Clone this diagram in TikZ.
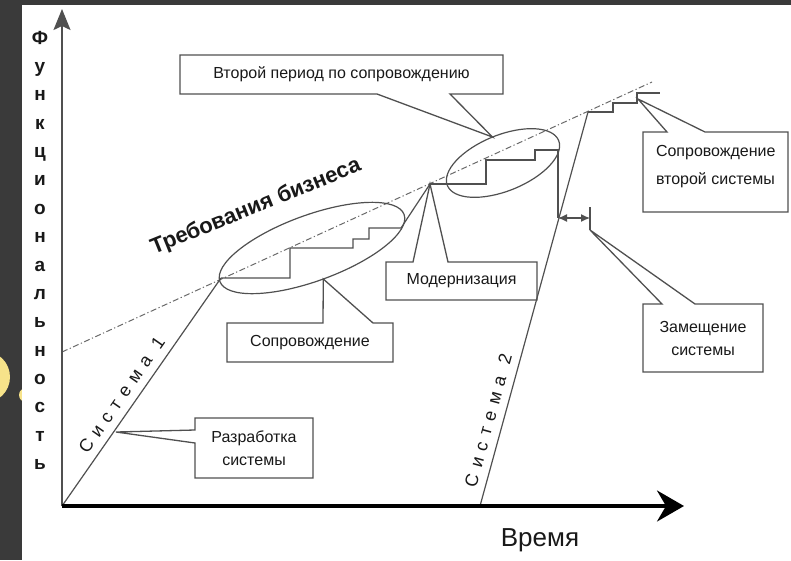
\documentclass[tikz,border=0pt]{standalone}
\usepackage{fontspec}
\setmainfont{Liberation Sans}
\usetikzlibrary{arrows.meta,calc,shapes.geometric}
\definecolor{darkbg}{RGB}{58,58,58}
\definecolor{yel}{RGB}{247,227,138}
\definecolor{ln}{RGB}{80,80,80}
\definecolor{dd}{RGB}{105,105,105}
\definecolor{txt}{RGB}{25,25,25}
\newcommand{\lsp}{\kern 7pt}
\begin{document}
\begin{tikzpicture}[x=1pt,y=-1pt,
  yaxisline/.style={draw=ln, line width=1.8pt},
  xaxisline/.style={draw=black, line width=3.5pt},
  stairline/.style={draw=ln, line width=1.2pt, line join=miter},
  sysline/.style={draw=ln, line width=1.2pt},
  dotline/.style={draw=dd, line width=1pt, dash pattern=on 6pt off 2.5pt on 1.2pt off 2.5pt},
  oval/.style={draw=ln, line width=1.2pt, ellipse, inner sep=0pt, outer sep=0pt},
  callout/.style={draw=ln, line width=1.3pt, line join=miter},
  boxgeom/.style={inner sep=0pt, outer sep=0pt, align=center, text=txt, font=\fontsize{16}{23}\selectfont},
  systext/.style={font=\fontsize{18}{18}\selectfont, text=txt, inner sep=0pt},
  vlet/.style={font=\fontsize{19}{19}\selectfont\bfseries, text=txt, anchor=base, inner sep=0pt},
]
\useasboundingbox (0,0) rectangle (791,560);
\clip (0,0) rectangle (791,560);
% background
\fill[darkbg] (0,0) rectangle (791,560);
\fill[yel] (-16,377) circle [radius=26];
\fill[yel] (26,395) circle [radius=7];
\fill[white] (22,5) rectangle (791,560);

% key points
\coordinate (O) at (62,506);
\coordinate (ytop) at (62,9);
\coordinate (xend) at (684,506);
\coordinate (A) at (221,278);
\coordinate (M) at (430,184);
\coordinate (E2) at (558,218);
\coordinate (R) at (590,218);
\coordinate (T1) at (590,207);
\coordinate (T2) at (590,230);
\coordinate (B) at (480,506);
\coordinate (C) at (588,112);
\coordinate (D1) at (62,352);
\coordinate (D2) at (652,82);
\coordinate (p4) at (638,99);
\coordinate (p6) at (116,432);

% business requirements line
\draw[dotline] (D1) -- (D2);

% ellipses
\node[oval, minimum width=196pt, minimum height=66pt, rotate=20] (el1) at (312,248) {};
\node[oval, minimum width=120pt, minimum height=56pt, rotate=22] (el2) at (503,163) {};

% system 1 and its maintenance
\draw[sysline] (O) -- (A);
\draw[stairline] (A) -- ++(69,0) -- ++(0,-30) -- ++(63,0) -- ++(0,-9) -- ++(16,0) -- ++(0,-11) -- ++(32,0) -- (M);
\draw[stairline] (M) -- ++(56,0) -- ++(0,-24) -- ++(49,0) -- ++(0,-10) -- ++(23,0) -- (E2);

% replacement arrow
\draw[sysline, {Latex[length=9pt,width=8pt]}-{Latex[length=9pt,width=8pt]}] (E2) -- (R);
\draw[sysline] (T1) -- (T2);

% system 2
\draw[sysline] (B) -- (C);
\draw[stairline] (C) -- ++(25,0) -- ++(0,-9) -- ++(24,0) -- ++(0,-10) -- ++(23,0);

% axes
\draw[yaxisline, -{Stealth[length=21pt,width=17pt,inset=4pt]}] (O) -- (ytop);
\draw[xaxisline, -{Stealth[length=27pt,width=31pt,inset=9pt]}] (O) -- (xend);

% axis labels
\node[font=\fontsize{26}{26}\selectfont, text=txt] (time) at (540,540) {Время};
\foreach \ch [count=\i from 0] in {Ф,у,н,к,ц,и,о,н,а,л,ь,н,о,с,т,ь}
  \node[vlet] (v\i) at (40,44+28.38*\i) {\ch};

\node[font=\fontsize{22}{22}\selectfont\bfseries, text=txt, rotate=22] (req) at (256,207) {Требования бизнеса};

\path (O) -- (A) node[systext, sloped, pos=0.45, above=8pt] (s1) {С\lsp и\lsp с\lsp т\lsp е\lsp м\lsp а\kern 12pt 1};
\path (B) -- (C) node[systext, sloped, pos=0.207, above=8pt] (s2) {С\lsp и\lsp с\lsp т\lsp е\lsp м\lsp а\kern 12pt 2};

% callouts
\node[boxgeom, minimum width=323pt, minimum height=39pt] (b1) at (341.5,74.5) {Второй период по сопровождению};
\draw[callout] (b1.north west) -- (b1.north east) -- (b1.south east) -- ($(b1.south west)+(270,0)$) -- (el2.north) -- ($(b1.south west)+(197,0)$) -- (b1.south west) -- cycle;

\node[boxgeom, minimum width=166pt, minimum height=39pt] (b2) at (310,342.5) {Сопровождение};
\draw[callout] (b2.south west) -- (b2.north west) -- ($(b2.north west)+(96,0)$) -- (el1.south) -- ($(b2.north west)+(146,0)$) -- (b2.north east) -- (b2.south east) -- cycle;

\node[boxgeom, minimum width=151pt, minimum height=38pt] (b3) at (461.5,281) {Модернизация};
\draw[callout] (b3.south west) -- (b3.north west) -- ($(b3.north west)+(27,0)$) -- (M) -- ($(b3.north west)+(62,0)$) -- (b3.north east) -- (b3.south east) -- cycle;

\node[boxgeom, minimum width=145pt, minimum height=80pt] (b4) at (715.5,172) {};
\node[boxgeom, align=left, anchor=north west, font=\fontsize{16}{28}\selectfont] (t4) at ($(b4.north west)+(13,13)$) {Сопровождение\\второй системы};
\draw[callout] (b4.south west) -- (b4.north west) -- ($(b4.north west)+(24,0)$) -- (p4) -- ($(b4.north west)+(62,0)$) -- (b4.north east) -- (b4.south east) -- cycle;

\node[boxgeom, minimum width=120pt, minimum height=68pt] (b5) at (703,338) {Замещение\\системы};
\draw[callout] (b5.south west) -- (b5.north west) -- ($(b5.north west)+(19,0)$) -- (T2) -- ($(b5.north west)+(52,0)$) -- (b5.north east) -- (b5.south east) -- cycle;

\node[boxgeom, minimum width=118pt, minimum height=60pt] (b6) at (254,448) {\raisebox{-3pt}{Разработка}\\\raisebox{-3pt}{системы}};
\draw[callout] (b6.north west) -- (b6.north east) -- (b6.south east) -- (b6.south west) -- ($(b6.north west)+(0,25)$) -- (p6) -- ($(b6.north west)+(0,12)$) -- cycle;
\end{tikzpicture}
\end{document}
